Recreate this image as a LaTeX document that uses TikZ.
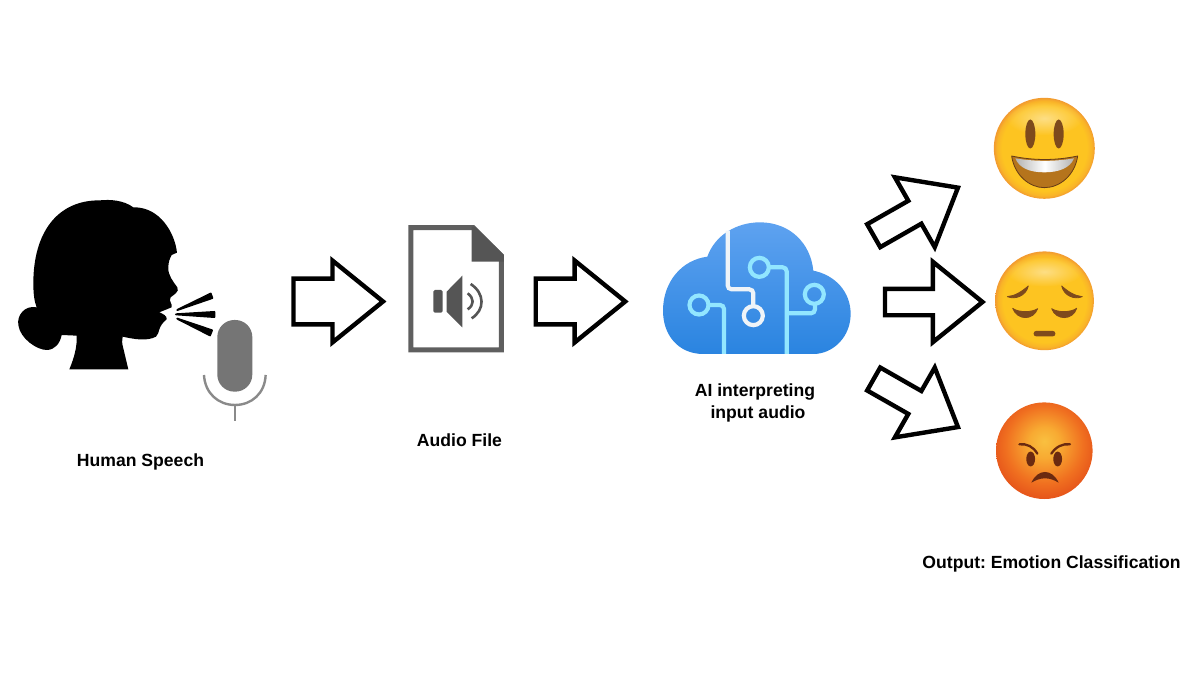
\documentclass[tikz,border=0pt]{standalone}
\usepackage{fontspec}
\setmainfont{Liberation Sans}
\usepackage{tikz}
\usetikzlibrary{shapes.arrows, fadings}

\definecolor{iconink}{HTML}{5F5F5F}
\definecolor{micgray}{HTML}{757575}
\definecolor{faceorange}{HTML}{F29A30}
\definecolor{faceyellow}{HTML}{FDC421}
\definecolor{facemid}{HTML}{F9B428}
\definecolor{facebrown}{HTML}{7E4A1C}
\definecolor{mouthbrown}{HTML}{B5741C}
\definecolor{cloudtop}{HTML}{5EA2F0}
\definecolor{cloudbot}{HTML}{2A84E0}
\definecolor{tracewhite}{HTML}{EFF4F8}
\definecolor{tracecyan}{HTML}{92E6FF}
\definecolor{angrybrown}{HTML}{6B2A10}
\definecolor{angrya}{HTML}{F9C040}
\definecolor{angryb}{HTML}{F8AA32}
\definecolor{angryc}{HTML}{F07020}
\definecolor{angryd}{HTML}{E24A18}

\tikzfading[name=softglow, inner color=transparent!55, outer color=transparent!100]

\pgfdeclareradialshading{happyface}{\pgfpoint{0bp}{0bp}}{
  color(0bp)=(faceyellow); color(21bp)=(faceyellow); color(23.5bp)=(facemid); color(25bp)=(faceorange); color(50bp)=(faceorange)}
\pgfdeclareradialshading{angryface}{\pgfpoint{0bp}{5bp}}{
  color(0bp)=(angrya); color(8bp)=(angryb); color(20bp)=(angryc); color(30bp)=(angryd); color(50bp)=(angryd)}

\begin{document}
\begin{tikzpicture}[
    x=1pt, y=-1pt,
    caption/.style={font=\fontsize{17.6}{22}\selectfont\bfseries\frenchspacing, align=center, inner sep=0pt},
    blockarrow/.style={single arrow, draw=black, fill=white, line width=4.4pt, miter limit=10, anchor=tail,
        inner xsep=0pt, outer sep=0pt, single arrow tip angle=78},
    fatarrow/.style={blockarrow, inner ysep=20.7pt, single arrow head extend=18pt, minimum height=89.5pt},
    thinarrow/.style={blockarrow, inner ysep=11pt, single arrow head extend=27pt, minimum height=97pt},
    face/.style={circle, inner sep=0pt, shading=happyface},
    trace/.style={line width=4.2pt, rounded corners=4pt},
    spot/.style={line width=4.2pt, fill=none},
    feature/.style={fill=facebrown, draw=facebrown, line join=round, line width=0.8pt},
    puff/.style={fill=black, draw=black, line width=2pt, line join=round},
]
\useasboundingbox (0,0) rectangle (1200,680);

% Speaker, drawn in 3x crop units
\begin{scope}[shift={(0,190)}, x=0.3333pt, y=-0.3333pt]
\fill[black] (208,538) -- (385,538) -- (370,475) .. controls (366,460) and (365,450) .. (368,440)
    .. controls (400,447) and (440,455) .. (468,440) .. controls (480,430) and (472,410) .. (500,388)
    .. controls (502,378) and (490,372) .. (478,367) -- (515,352) .. controls (518,340) and (505,335) .. (512,322)
    .. controls (520,315) and (540,305) .. (532,292) .. controls (520,275) and (503,255) .. (505,232)
    .. controls (505,215) and (510,205) .. (515,195) -- (531,188) .. controls (525,130) and (480,50) .. (400,52)
    .. controls (370,30) and (330,28) .. (300,31) .. controls (170,30) and (100,130) .. (100,280)
    .. controls (100,310) and (103,335) .. (110,352) .. controls (75,345) and (50,375) .. (55,405)
    .. controls (60,445) and (110,480) .. (140,480) .. controls (165,480) and (180,460) .. (185,435)
    -- (230,437) .. controls (232,470) and (222,505) .. (208,538) -- cycle;
\path[puff] (532,360) -- (632,311) -- (637,324) -- cycle;
\path[puff] (528,373) -- (643,366) -- (643,381) -- cycle;
\path[puff] (532,386) -- (636,421) -- (630,436) -- cycle;
% Microphone
\fill[micgray, rounded corners=17pt] (652,390) rectangle (757,605);
\draw[micgray!85!white, line width=2.4pt] (612,555) .. controls (615,610) and (655,645) .. (705,645)
    .. controls (755,645) and (795,610) .. (797,555);
\draw[micgray!85!white, line width=2.4pt] (705,645) -- (705,692);
\end{scope}

\node[caption] (speech) at (140.5,462) {Human Speech};
\node[fatarrow] (toaudio) at (293.5,301.5) {};

% Audio file, drawn in 3x crop units
\begin{scope}[shift={(280,210)}, x=0.3333pt, y=-0.3333pt]
\draw[iconink, line width=5pt, line join=miter] (393,53) -- (580,53) -- (664,137) -- (664,420) -- (393,420) -- cycle;
\fill[iconink!90!black] (575,50) -- (585,50) -- (672,135) -- (672,155) -- (575,155) -- cycle;
\fill[iconink!90!black, rounded corners=1.5pt] (460,240) rectangle (488,308);
\fill[iconink!90!black] (500,245) -- (547,197) -- (547,352) -- (500,305) -- cycle;
\draw[iconink!90!black, line width=2.6pt] (563,250) .. controls (583,265) and (583,285) .. (563,298);
\draw[iconink!90!black, line width=2.6pt] (572,222) .. controls (615,250) and (615,300) .. (575,325);
\end{scope}

\node[caption] (audio) at (459.5,440.5) {Audio File};
\node[fatarrow] (tocloud) at (535.7,301.5) {};

% Cloud, drawn in 3x crop units
\begin{scope}[shift={(650,210)}, x=0.3333pt, y=-0.3333pt]
\path[top color=cloudtop, bottom color=cloudbot] (160,432) .. controls (85,432) and (38,375) .. (39,300)
    .. controls (40,215) and (95,150) .. (172,140) .. controls (195,75) and (260,37) .. (330,37)
    .. controls (420,37) and (482,100) .. (490,182) .. controls (555,195) and (602,245) .. (602,312)
    .. controls (602,380) and (550,432) .. (490,432) -- cycle;
\draw[tracecyan, trace] (173,285) -- (222,285) -- (222,432);
\draw[tracecyan, trace] (358,172) -- (410,172) -- (410,432);
\draw[tracecyan, trace] (410,310) -- (495,310) -- (495,278);
\draw[tracewhite, trace] (233,62) -- (233,238) -- (310,238) -- (310,290);
\draw[tracecyan, spot] (147,285) circle[radius=9.5pt];
\draw[tracecyan, spot] (328,172) circle[radius=9.5pt];
\draw[tracecyan, spot] (493,253) circle[radius=9.5pt];
\draw[tracewhite, spot] (310,317) circle[radius=9.5pt];
\end{scope}

\node[caption] (ai) at (755,402.5) {AI interpreting\\\hspace*{6pt}input audio};

% Output arrows
\node[thinarrow, rotate=29.7] (tohappy) at (873.7,235.7) {};
\node[thinarrow, minimum height=97.5pt] (tosad) at (885,302) {};
\node[thinarrow, rotate=-29.7] (toangry) at (873.7,379) {};

% Happy face
\node[face, minimum size=101pt] (happy) at (1044.3,148.3) {};
\begin{scope}[shift={(980,90)}, x=0.3333pt, y=-0.3333pt]
\fill[white, path fading=softglow] (193,85) ellipse (38pt and 17pt);
\fill[facebrown] (151,132) ellipse (5pt and 14.5pt);
\fill[facebrown] (236,132) ellipse (5pt and 14.5pt);
\fill[mouthbrown, draw=facebrown!80!black, line width=0.8pt, line join=round] (95,198) .. controls (160,212) and (228,212) .. (293,198)
    .. controls (285,255) and (240,293) .. (193,293) .. controls (148,293) and (103,255) .. (95,198) -- cycle;
\shade[left color=black!30, right color=black!30, middle color=white] (106,205) .. controls (165,215) and (225,215) .. (282,205)
    .. controls (270,235) and (235,247) .. (193,247) .. controls (150,247) and (118,235) .. (106,205) -- cycle;
\end{scope}

% Sad face
\node[face, minimum size=98.8pt] (sad) at (1044.5,300.8) {};
\begin{scope}[shift={(980,90)}, x=0.3333pt, y=-0.3333pt]
\fill[white, path fading=softglow] (193,545) ellipse (38pt and 15pt);
\path[feature] (82,620) .. controls (105,618) and (125,605) .. (145,588) .. controls (138,618) and (105,630) .. (82,620) -- cycle;
\path[feature] (307,620) .. controls (284,618) and (264,605) .. (245,588) .. controls (252,618) and (284,630) .. (307,620) -- cycle;
\path[feature] (98,655) .. controls (115,668) and (155,668) .. (173,656) .. controls (160,692) and (112,692) .. (98,655) -- cycle;
\path[feature] (215,656) .. controls (233,668) and (272,668) .. (290,655) .. controls (278,692) and (228,692) .. (215,656) -- cycle;
\fill[facebrown, rounded corners=2.4pt] (161,723) rectangle (226,739);
\end{scope}

% Angry face
\node[circle, inner sep=0pt, shading=angryface, minimum size=96.6pt] (angry) at (1044.3,450.7) {};
\begin{scope}[shift={(980,395)}, x=0.3333pt, y=-0.3333pt]
\fill[angrybrown] (152,192) ellipse (4.4pt and 7.4pt);
\fill[angrybrown] (233,192) ellipse (4.4pt and 7.4pt);
\draw[angrybrown, line width=2.3pt, line cap=round] (118,148) .. controls (140,145) and (160,155) .. (172,176);
\draw[angrybrown, line width=2.3pt, line cap=round] (270,148) .. controls (248,145) and (228,155) .. (214,176);
\fill[angrybrown] (154,263) .. controls (165,240) and (180,231) .. (195,231) .. controls (210,231) and (225,240) .. (236,263)
    .. controls (222,255) and (210,250) .. (195,250) .. controls (180,250) and (168,255) .. (154,263) -- cycle;
\end{scope}

\node[caption] (output) at (1051.5,564) {Output: Emotion Classification};

\end{tikzpicture}
\end{document}
